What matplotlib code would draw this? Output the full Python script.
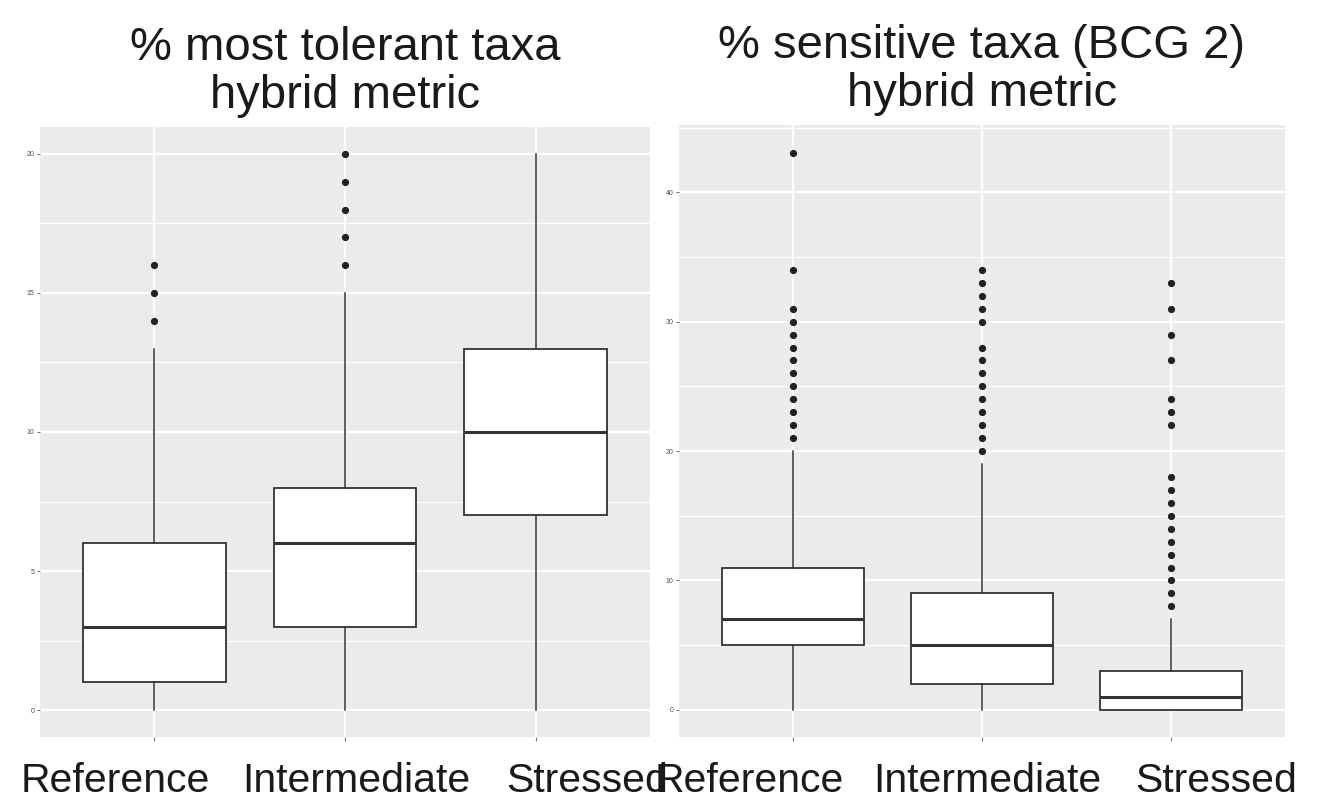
import matplotlib.pyplot as plt
from matplotlib.ticker import MultipleLocator

plt.rcParams['font.family'] = ['Liberation Sans', 'DejaVu Sans']

groups = ["Reference", "Intermediate", "Stressed"]

# left panel: % most tolerant taxa
tol_q1 = [1, 3, 7]
tol_med = [3, 6, 10]
tol_q3 = [6, 8, 13]
tol_lo = [0, 0, 0]
tol_hi = [13, 15, 20]
tol_out = [[14, 15, 16], [16, 17, 18, 19, 20], []]

# right panel: % sensitive taxa (BCG 2)
sen_q1 = [5, 2, 0]
sen_med = [7, 5, 1]
sen_q3 = [11, 9, 3]
sen_lo = [0, 0, 0]
sen_hi = [20, 19, 7]
sen_out = [[21, 22, 23, 24, 25, 26, 27, 28, 29, 30, 31, 34, 43],
           [20, 21, 22, 23, 24, 25, 26, 27, 28, 30, 31, 32, 33, 34],
           [8, 9, 10, 11, 12, 13, 14, 15, 16, 17, 18, 22, 23, 24, 27, 29, 31, 33]]

# the category labels sit a bit off the ticks in the original (pasted text)
label_x_left = [115, 356, 587]
label_x_right = [749, 987, 1216]

W, H = 1319, 802
fig = plt.figure(figsize=(W / 100, H / 100), dpi=100)
ax1 = fig.add_axes([40/W, 65/H, 610/W, 610/H])
ax2 = fig.add_axes([679/W, 65/H, 606/W, 612/H])


def draw(ax, q1, med, q3, lo, hi, out, ylim, major, title, label_x):
    stats = []
    for i in range(len(groups)):
        stats.append(dict(q1=q1[i], med=med[i], q3=q3[i], whislo=lo[i],
                          whishi=hi[i], fliers=out[i], label=groups[i]))
    ax.set_facecolor("#ebebeb")
    ax.bxp(stats, positions=[1, 2, 3], widths=0.75, patch_artist=True,
           showcaps=False,
           boxprops=dict(facecolor="white", edgecolor="#333333", linewidth=1.3),
           medianprops=dict(color="#333333", linewidth=2.2),
           whiskerprops=dict(color="#333333", linewidth=1.1),
           flierprops=dict(marker="o", markerfacecolor="#222222",
                           markeredgecolor="#222222", markersize=4.2),
           zorder=3)
    ax.set_xlim(0.4, 3.6)
    ax.set_ylim(*ylim)
    ax.yaxis.set_major_locator(MultipleLocator(major))
    ax.yaxis.set_minor_locator(MultipleLocator(major / 2))
    ax.grid(which="major", color="white", linewidth=1.6, zorder=0)
    ax.grid(which="minor", axis="y", color="white", linewidth=0.8, zorder=0)
    ax.set_axisbelow(True)
    for s in ax.spines.values():
        s.set_visible(False)
    ax.tick_params(axis="y", which="major", labelsize=5, colors="#4d4d4d",
                   length=2, width=0.6, pad=2)
    ax.tick_params(axis="y", which="minor", length=0)
    ax.tick_params(axis="x", colors="#7f7f7f", length=3, width=0.8)
    ax.set_xticks([1, 2, 3])
    ax.set_xticklabels([])
    ax.set_title(title, fontsize=34, pad=14, linespacing=1.1, color="#1a1a1a")
    for x, g in zip(label_x, groups):
        fig.text(x / W, 10 / H, g, fontsize=29.5, ha="center", va="baseline",
                 color="#1a1a1a")


draw(ax1, tol_q1, tol_med, tol_q3, tol_lo, tol_hi, tol_out, (-0.97, 20.97), 5,
     "% most tolerant taxa\nhybrid metric", label_x_left)
draw(ax2, sen_q1, sen_med, sen_q3, sen_lo, sen_hi, sen_out, (-2.1, 45.2), 10,
     "% sensitive taxa (BCG 2)\nhybrid metric", label_x_right)

fig.savefig("out.png", dpi=100)
